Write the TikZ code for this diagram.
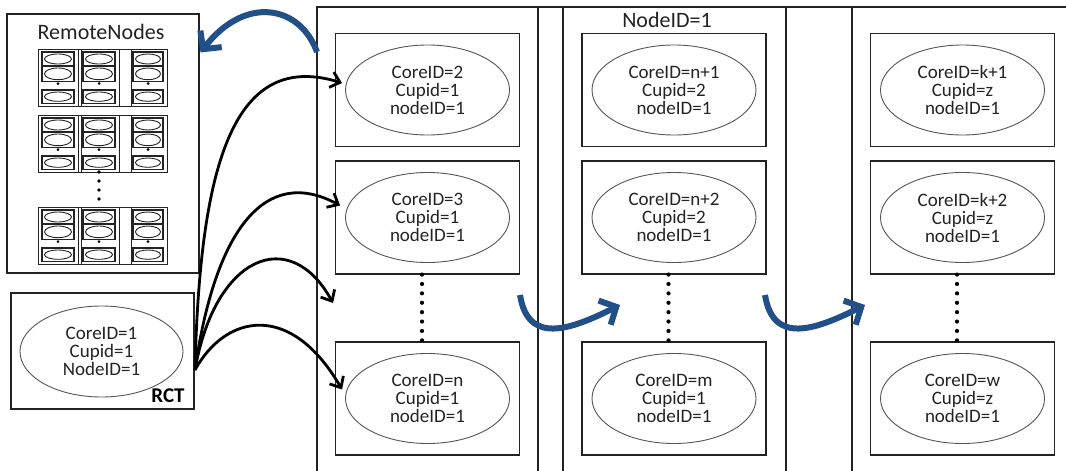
\documentclass[tikz,border=0pt]{standalone}
\usepackage{fontspec}
\setmainfont{Carlito}
\usetikzlibrary{shapes.geometric,arrows.meta,calc}
\definecolor{ink}{RGB}{35,35,35}
\definecolor{rim}{RGB}{85,85,85}
\definecolor{flowblue}{RGB}{33,79,136}
\begin{document}
\begin{tikzpicture}[x=1pt,y=-1pt,
  frame/.style={draw=ink,line width=1.1pt},
  corebox/.style={draw=ink,line width=1.1pt,minimum width=184pt,minimum height=113pt,inner sep=0pt},
  core/.style={ellipse,draw=rim,line width=0.9pt,minimum width=164pt,minimum height=90pt,
    inner sep=0pt,align=center,text=ink,font=\fontsize{19}{18}\selectfont},
  title/.style={text=ink,font=\fontsize{22}{24}\selectfont},
  link/.style={draw=black,line width=2.8pt,-{Straight Barb[length=9pt,width=16pt]}},
  migrate/.style={draw=flowblue,line width=6pt,-{Straight Barb[length=13pt,width=27pt]}},
  vdots/.style={draw=black,line width=4.2pt,line cap=round,dash pattern=on 0pt off 9.4pt},
  hdots/.style={draw=black,line width=4pt,line cap=rect,dash pattern=on 0pt off 9.3pt},
  minicell/.style={draw=ink,line width=1.4pt},
  miniring/.style={draw=ink,line width=0.9pt},
  minirule/.style={draw=ink,line width=0.8pt}]

\useasboundingbox (0,0) rectangle (1066,471);
\clip (0,0) rectangle (1066,471);

% ---- the node frame with its three core columns ----
\coordinate (ftl) at (317,7);
\draw[frame] (1075,7) -- (ftl) -- (317,480);
\foreach \sx/\nm in {538/s1,563/s2,786/s3,852/s4}{
  \coordinate (\nm) at (\sx,7);
  \draw[frame] (\nm) -- (\sx,480);
}
\node[title] (nodelabel) at (667,20) {NodeID=1};

\foreach \cx/\c in {427.5/1,674/2,962.5/3}{
  \node[corebox] (b\c1) at (\cx,90) {};
  \node[corebox] (b\c2) at (\cx,217.5) {};
  \node[corebox] (b\c3) at (\cx,398.5) {};
}

\node[core] (e11) at (b11) {CoreID=2\\Cupid=1\\nodeID=1};
\node[core] (e12) at (b12) {CoreID=3\\Cupid=1\\nodeID=1};
\node[core] (e13) at (b13) {CoreID=n\\Cupid=1\\nodeID=1};
\node[core] (e21) at (b21) {CoreID=n+1\\Cupid=2\\nodeID=1};
\node[core] (e22) at (b22) {CoreID=n+2\\Cupid=2\\nodeID=1};
\node[core] (e23) at (b23) {CoreID=m\\Cupid=1\\nodeID=1};
\node[core] (e31) at (b31) {CoreID=k+1\\Cupid=z\\nodeID=1};
\node[core] (e32) at (b32) {CoreID=k+2\\Cupid=z\\nodeID=1};
\node[core] (e33) at (b33) {CoreID=w\\Cupid=z\\nodeID=1};

% elided cores inside each column
\foreach \c in {1,2,3}{
  \draw[vdots] ($(b\c2.south)+(-5.5,0)$) -- ($(b\c3.north)+(-5.5,0)$);
}
% elided columns between the second and the last one
\draw[hdots] (s3 |- 0,239) -- (s4 |- 0,239);

% ---- remote nodes overview ----
\node[frame,minimum width=192pt,minimum height=259pt,inner sep=0pt] (remote) at (103,143.5) {};
\node[title] (remotelabel) at (101,32) {RemoteNodes};

\foreach \gy in {49,115,207}{
  \begin{scope}[shift={(38,\gy)}]
    \draw[minirule] (0,0) rectangle (129,57);
    \foreach \lx in {40,43,81,93}{ \draw[minirule] (\lx,0) -- (\lx,57); }
    \foreach \cx/\cw in {4/32,45/32,95/30}{
      \foreach \ry/\rh in {3/14,17/15.7,41/13.3}{
        \draw[minicell] (\cx,\ry) rectangle ++(\cw,\rh);
        \draw[miniring] (\cx+\cw/2,\ry+\rh/2) ellipse [x radius=\cw/2-2.5, y radius=\rh/2-2];
      }
      \fill[black] (\cx+\cw/2,34.5) circle [radius=1.5pt];
    }
  \end{scope}
}
\foreach \dy in {172,181,190,199}{ \fill[black] (99,\dy) circle [radius=1.9pt]; }

% ---- remote core table ----
\node[frame,minimum width=183pt,minimum height=116pt,inner sep=0pt] (rct) at (102.5,351) {};
\node[core,minimum width=163pt,minimum height=91pt] (e0) at (101.5,351.5) {CoreID=1\\Cupid=1\\NodeID=1};
\node[text=black,font=\fontsize{21}{22}\selectfont\bfseries] (rctlabel) at (168,396) {RCT};

% ---- links from the table to the cores ----
\coordinate (fan) at (195,370);
\coordinate (gapin) at (333,303);
\draw[link] (fan) .. controls (200,160) and (235,50) .. ($(e11.west)+(-3,-7)$);
\draw[link] (fan) .. controls (215,230) and (265,165) .. ($(e12.west)+(-5,-12)$);
\draw[link] (fan) .. controls (215,255) and (290,225) .. (gapin);
\draw[link] (fan) .. controls (225,315) and (290,300) .. ($(e13.west)+(-3,-9)$);

% ---- migration arrows ----
\coordinate (backout) at (317,52);
\draw[migrate] (backout) .. controls (300,5) and (245,-5) .. ($(remote.north east)+(1,39)$);
\coordinate (hop1) at (520,295);
\coordinate (hop1in) at (620,305);
\draw[migrate] (hop1) .. controls (528,345) and (570,330) .. (hop1in);
\coordinate (hop2) at (765,295);
\coordinate (hop2in) at (865,305);
\draw[migrate] (hop2) .. controls (773,345) and (815,330) .. (hop2in);

\end{tikzpicture}
\end{document}
